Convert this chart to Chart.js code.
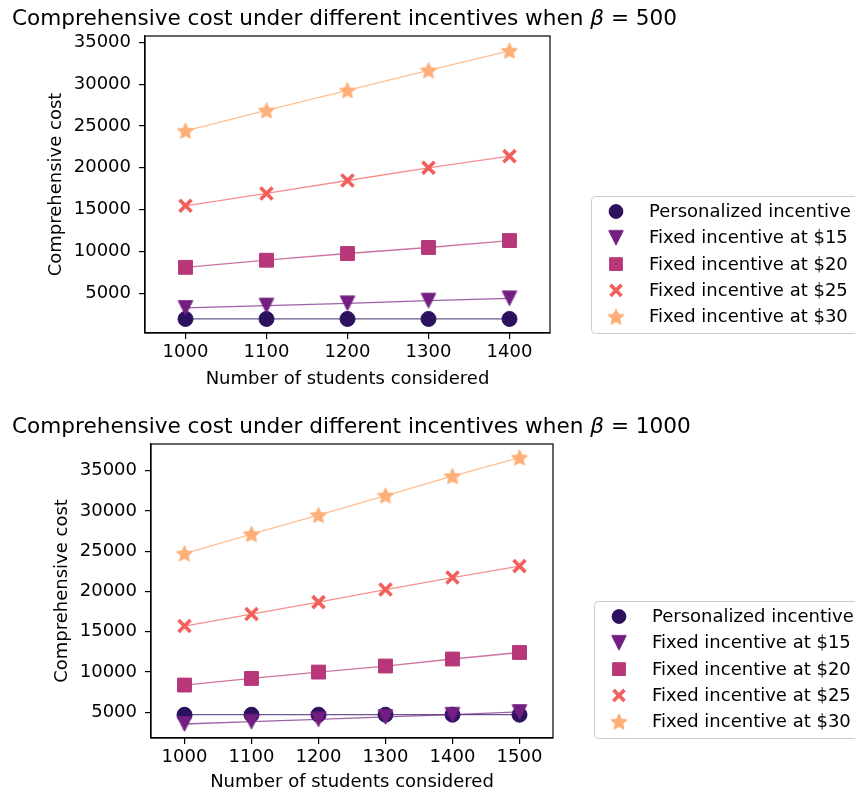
<!DOCTYPE html>
<html>
<head>
<meta charset="utf-8">
<script src="https://cdn.jsdelivr.net/npm/chart.js@4/dist/chart.umd.min.js"></script>
<style>
  html, body { margin: 0; padding: 0; background: #ffffff; }
  #wrap { position: relative; width: 855px; height: 795px; overflow: hidden; }
  #wrap canvas { position: absolute; left: 0; }
</style>
</head>
<body>
<div id="wrap">
  <canvas id="cost500" width="855" height="397" style="top:0px;width:855px;height:397px"></canvas>
  <canvas id="cost1000" width="855" height="398" style="top:397px;width:855px;height:398px"></canvas>
</div>
<script>
// ---- data ----
const seriesLabels = [
  'Personalized incentive',
  'Fixed incentive at $15',
  'Fixed incentive at $20',
  'Fixed incentive at $25',
  'Fixed incentive at $30'
];

// beta = 500
const students500 = [1000, 1100, 1200, 1300, 1400];
const personalized500 = [1930, 1930, 1930, 1930, 1930];
const fixed15_500 = [3250, 3530, 3800, 4120, 4400];
const fixed20_500 = [8100, 8950, 9750, 10470, 11300];
const fixed25_500 = [15450, 16930, 18480, 19990, 21390];
const fixed30_500 = [24410, 26850, 29250, 31640, 33980];

// beta = 1000
const students1000 = [1000, 1100, 1200, 1300, 1400, 1500];
const personalized1000 = [4710, 4710, 4710, 4710, 4710, 4710];
const fixed15_1000 = [3560, 3840, 4130, 4430, 4710, 5050];
const fixed20_1000 = [8390, 9210, 10000, 10750, 11620, 12430];
const fixed25_1000 = [15710, 17200, 18680, 20240, 21730, 23150];
const fixed30_1000 = [24710, 27110, 29470, 31900, 34300, 36610];

const costTicks = [5000, 10000, 15000, 20000, 25000, 30000, 35000];

// ---- styles ----
const FONT = '"DejaVu Sans", "Liberation Sans", sans-serif';
const LABEL_SIZE = 18;
const TITLE_SIZE = 21.6;
Chart.defaults.font.family = FONT;
Chart.defaults.color = '#000000';

const markerColors = ['#2c115f', '#721f81', '#b73779', '#f1605d', '#feaf77'];
const lineColors = [
  'rgba(44,17,95,0.7)', 'rgba(114,31,129,0.7)', 'rgba(183,55,121,0.7)',
  'rgba(241,96,93,0.7)', 'rgba(254,175,119,0.8)'
];

// filled five-point star marker
function starImage(color, R) {
  const s = Math.ceil(R * 2 + 3);
  const c = document.createElement('canvas');
  c.width = s; c.height = s;
  const g = c.getContext('2d');
  g.translate(s / 2, s / 2 + 0.6);
  g.beginPath();
  for (let i = 0; i < 10; i++) {
    const r = i % 2 ? R * 0.46 : R;
    const a = -Math.PI / 2 + i * Math.PI / 5;
    g.lineTo(r * Math.cos(a), r * Math.sin(a));
  }
  g.closePath();
  g.fillStyle = color;
  g.fill();
  g.lineJoin = 'round';
  g.lineWidth = 1.2;
  g.strokeStyle = color;
  g.stroke();
  return c;
}

// downward triangle marker, as wide as it is tall
function triangleDownImage(color, w, h) {
  const s = Math.ceil(Math.max(w, h) + 3);
  const c = document.createElement('canvas');
  c.width = s; c.height = s;
  const g = c.getContext('2d');
  g.translate(s / 2, s / 2);
  g.beginPath();
  g.moveTo(-w / 2, -h / 2);
  g.lineTo(w / 2, -h / 2);
  g.lineTo(0, h / 2);
  g.closePath();
  g.fillStyle = color;
  g.fill();
  g.lineJoin = 'round';
  g.lineWidth = 1;
  g.strokeStyle = color;
  g.stroke();
  return c;
}

const starMarker = starImage(markerColors[4], 8.2);
const triangleMarker = triangleDownImage(markerColors[1], 14.5, 14.5);

const markerStyles = ['circle', triangleMarker, 'rect', 'crossRot', starMarker];
const markerRadius = [7.5, 8, 9.8, 8.5, 9];
const markerBorder = [1, 1, 1, 3.6, 1];

function makeDatasets(xs, seriesList) {
  return seriesList.map((ys, i) => ({
    label: seriesLabels[i],
    data: xs.map((x, k) => ({ x: x, y: ys[k] })),
    borderColor: lineColors[i],
    borderWidth: 1.3,
    pointStyle: markerStyles[i],
    pointRadius: markerRadius[i],
    pointBackgroundColor: markerColors[i],
    pointBorderColor: markerColors[i],
    pointBorderWidth: markerBorder[i],
    tension: 0,
    fill: false,
    order: 5 - i
  }));
}

// panel title with an italic beta, left aligned
const panelTitle = {
  id: 'panelTitle',
  afterDraw(chart, args, opts) {
    const ctx = chart.ctx;
    ctx.save();
    ctx.fillStyle = '#000000';
    ctx.textBaseline = 'alphabetic';
    ctx.textAlign = 'left';
    let x = opts.x;
    const parts = [
      [opts.before, TITLE_SIZE + 'px ' + FONT],
      ['\u03B2', 'italic ' + TITLE_SIZE + 'px ' + FONT],
      [opts.after, TITLE_SIZE + 'px ' + FONT]
    ];
    for (const [txt, f] of parts) {
      ctx.font = f;
      ctx.fillText(txt, x, opts.baseline);
      x += ctx.measureText(txt).width;
    }
    ctx.restore();
  }
};

// full frame around the plotting area
const frame = {
  id: 'frame',
  afterDatasetsDraw(chart) {
    const { ctx, chartArea: a } = chart;
    ctx.save();
    ctx.strokeStyle = '#000000';
    ctx.lineWidth = 1.2;
    ctx.strokeRect(a.left, a.top, a.right - a.left, a.bottom - a.top);
    ctx.restore();
  }
};

// legend box placed to the right of the plotting area
const sideLegend = {
  id: 'sideLegend',
  afterDraw(chart, args, opts) {
    const { ctx, chartArea: a } = chart;
    const left = a.right + opts.gap;
    const h = 137;
    const top = a.bottom - h;
    ctx.save();
    ctx.beginPath();
    if (ctx.roundRect) ctx.roundRect(left + 0.5, top + 0.5, 320, h, 4);
    else ctx.rect(left + 0.5, top + 0.5, 320, h);
    ctx.fillStyle = 'rgba(255,255,255,0.8)';
    ctx.fill();
    ctx.strokeStyle = '#cccccc';
    ctx.lineWidth = 1;
    ctx.stroke();
    chart.data.datasets.forEach((ds, i) => {
      const cy = top + 15.5 + i * 26.3;
      const cx = left + 25;
      ctx.fillStyle = ds.pointBackgroundColor;
      ctx.strokeStyle = ds.pointBorderColor;
      ctx.lineWidth = ds.pointBorderWidth;
      const pOpts = {
        pointStyle: ds.pointStyle,
        radius: ds.pointRadius * 0.92,
        rotation: 0,
        borderWidth: ds.pointBorderWidth
      };
      if (Chart.helpers && Chart.helpers.drawPoint) {
        Chart.helpers.drawPoint(ctx, pOpts, cx, cy);
      }
      ctx.fillStyle = '#000000';
      ctx.font = LABEL_SIZE + 'px ' + FONT;
      ctx.textBaseline = 'middle';
      ctx.textAlign = 'left';
      ctx.fillText(ds.label, left + 58, cy + 1);
    });
    ctx.restore();
  }
};

function makeChart(canvasId, xs, seriesList, cfg) {
  return new Chart(document.getElementById(canvasId), {
    type: 'line',
    data: { datasets: makeDatasets(xs, seriesList) },
    plugins: [panelTitle, frame, sideLegend],
    options: {
      responsive: false,
      animation: false,
      events: [],
      layout: { padding: { left: 12, top: cfg.top, right: cfg.right, bottom: 0 } },
      plugins: {
        legend: { display: false },
        tooltip: { enabled: false },
        title: { display: false },
        panelTitle: { x: 12, baseline: cfg.titleBaseline,
          before: 'Comprehensive cost under different incentives when ',
          after: ' = ' + cfg.beta },
        sideLegend: { gap: 41 }
      },
      scales: {
        x: {
          type: 'linear',
          min: cfg.xMin, max: cfg.xMax,
          afterBuildTicks(scale) { scale.ticks = xs.map(v => ({ value: v })); },
          afterFit(scale) { scale.height = cfg.xAxisHeight; },
          ticks: { font: { size: LABEL_SIZE }, color: '#000000', padding: 2.5, maxRotation: 0,
                   callback: v => String(v) },
          grid: { drawOnChartArea: false, drawTicks: true, tickLength: 6, color: '#000000', lineWidth: 1.2 },
          border: { display: true, color: '#000000', width: 1.2 },
          title: { display: true, text: 'Number of students considered', font: { size: LABEL_SIZE },
                   color: '#000000', padding: { top: 0, bottom: cfg.xTitlePad } }
        },
        y: {
          type: 'linear',
          min: cfg.yMin, max: cfg.yMax,
          afterBuildTicks(scale) { scale.ticks = costTicks.map(v => ({ value: v })); },
          afterFit(scale) { scale.width = cfg.yAxisWidth; },
          ticks: { font: { size: LABEL_SIZE }, color: '#000000', padding: 8,
                   callback: v => String(v) },
          grid: { drawOnChartArea: false, drawTicks: true, tickLength: 6, color: '#000000', lineWidth: 1.2 },
          border: { display: true, color: '#000000', width: 1.2 },
          title: { display: true, text: 'Comprehensive cost', font: { size: LABEL_SIZE },
                   color: '#000000', padding: { top: cfg.yTitlePad, bottom: 0 } }
        }
      }
    }
  });
}

makeChart('cost500', students500,
  [personalized500, fixed15_500, fixed20_500, fixed25_500, fixed30_500],
  { beta: 500, top: 36, right: 305, titleBaseline: 25,
    xMin: 950, xMax: 1450, yMin: 250, yMax: 35750,
    xAxisHeight: 64, yAxisWidth: 133, xTitlePad: 6.5, yTitlePad: 34 });

makeChart('cost1000', students1000,
  [personalized1000, fixed15_1000, fixed20_1000, fixed25_1000, fixed30_1000],
  { beta: 1000, top: 47, right: 302, titleBaseline: 433 - 397,
    xMin: 950, xMax: 1550, yMin: 1820, yMax: 38300,
    xAxisHeight: 57, yAxisWidth: 139, xTitlePad: 1.5, yTitlePad: 40 });
</script>
</body>
</html>
